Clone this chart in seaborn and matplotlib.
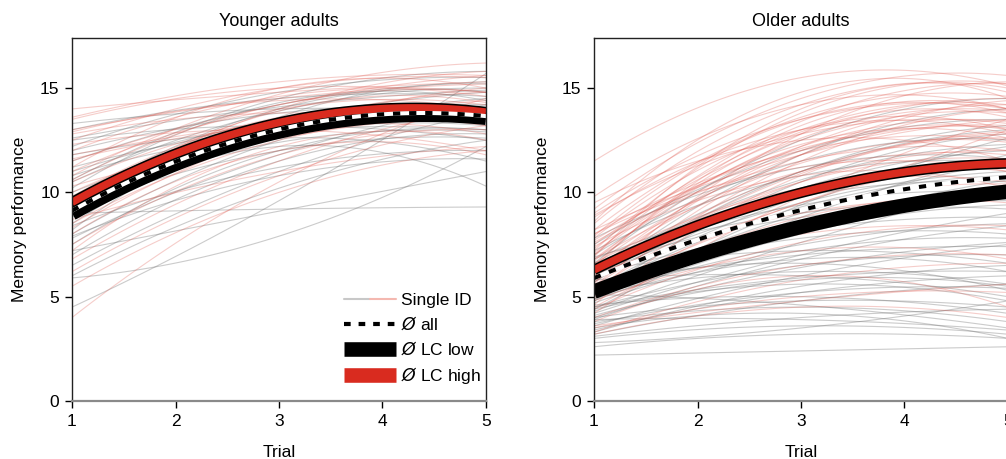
import numpy as np
import pandas as pd
import matplotlib
matplotlib.use("Agg")
import matplotlib.pyplot as plt
import seaborn as sns
from matplotlib.lines import Line2D
from matplotlib.legend_handler import HandlerTuple

# ---------------- data ----------------
trials = [1, 2, 3, 4, 5]
trial_pts = [1, 3, 5]          # individual curves: values read at trials 1, 3, 5
y_ticks = [0, 5, 10, 15]
panel_titles = ["Younger adults", "Older adults"]

young_low_ids = [
    (4.5, 9.6, 15.7), (5.9, 7.9, 12.2), (7.2, 9.1, 11.0), (9.0, 9.2, 9.3),
    (12.0, 13.8, 14.2), (11.0, 13.5, 14.8), (10.5, 13.9, 15.0), (8.0, 12.5, 14.5),
    (8.5, 13.0, 13.5), (7.5, 12.0, 13.0), (13.0, 14.5, 14.6), (10.0, 12.8, 13.2),
    (6.5, 11.0, 13.8), (9.5, 14.0, 14.8), (12.5, 13.2, 12.5), (8.8, 12.2, 10.3),
    (11.5, 14.2, 15.3), (7.0, 11.5, 12.8), (9.8, 13.4, 14.0), (10.8, 12.6, 11.5),
    (8.2, 13.6, 15.2), (12.2, 14.8, 15.5), (6.0, 10.2, 12.5), (9.2, 12.0, 12.6),
    (11.8, 13.0, 13.0), (7.8, 11.8, 14.2), (10.2, 14.3, 14.4), (13.3, 14.0, 13.8),
    (11.2, 13.1, 13.5), (9.6, 12.4, 12.9), (8.4, 11.2, 12.0), (12.6, 14.1, 14.9),
    (10.6, 14.5, 15.8), (7.9, 10.8, 11.6),
]
young_high_ids = [
    (14.0, 14.8, 15.3), (13.0, 14.5, 15.2), (4.0, 10.5, 14.5), (5.5, 10.0, 12.0),
    (12.5, 15.0, 15.5), (11.5, 14.2, 15.6), (10.5, 13.5, 14.0), (9.5, 14.0, 15.8),
    (8.5, 12.5, 13.5), (7.5, 11.8, 13.0), (10.0, 13.0, 12.8), (12.0, 14.6, 14.8),
    (8.0, 12.0, 11.8), (6.8, 11.5, 14.0), (11.0, 14.0, 14.2), (9.0, 13.2, 14.8),
    (12.8, 13.8, 13.2), (10.8, 14.7, 16.2), (7.2, 12.2, 12.5), (9.8, 13.6, 13.6),
    (11.8, 13.4, 14.4), (8.7, 11.0, 12.2), (13.5, 15.0, 14.6), (6.2, 10.8, 13.2),
    (10.3, 12.6, 13.8), (11.2, 15.0, 15.0), (9.3, 13.9, 14.3), (12.3, 13.0, 12.0),
    (10.6, 14.2, 14.8), (11.6, 13.2, 13.4), (9.1, 12.8, 14.0), (12.9, 14.4, 14.0),
    (8.3, 12.9, 15.0), (13.6, 15.3, 15.6),
]
old_low_ids = [
    (2.2, 2.4, 2.6), (3.0, 3.6, 3.2), (3.5, 4.2, 3.0), (4.0, 4.8, 4.5),
    (3.3, 5.5, 6.5), (4.5, 6.5, 7.0), (5.0, 7.5, 8.5), (4.2, 7.0, 9.0),
    (5.5, 8.5, 10.0), (6.0, 9.5, 11.0), (4.8, 8.0, 9.8), (5.2, 9.0, 11.5),
    (6.5, 10.0, 11.2), (3.8, 4.5, 3.8), (4.6, 5.0, 4.2), (5.8, 6.0, 5.0),
    (5.0, 10.5, 12.8), (6.2, 11.0, 13.0), (7.0, 11.5, 12.5), (4.4, 8.8, 11.8),
    (5.6, 7.8, 8.0), (6.8, 9.8, 10.5), (3.6, 6.0, 7.5), (4.9, 6.8, 6.2),
    (5.3, 9.3, 10.8), (7.5, 12.0, 13.5), (6.0, 8.2, 8.8), (2.8, 3.5, 4.8),
    (4.1, 5.8, 5.5), (5.7, 10.2, 12.0), (6.4, 8.8, 9.2), (4.7, 7.2, 7.8),
    (5.9, 11.8, 14.0), (3.9, 6.8, 8.4), (6.6, 12.5, 14.5), (5.1, 4.6, 3.5),
    (4.3, 7.6, 10.4), (7.2, 10.8, 11.4), (3.4, 5.2, 6.0), (5.4, 9.8, 12.2),
    (3.1, 4.0, 4.4), (2.6, 3.2, 3.0), (4.4, 5.6, 4.8), (3.7, 5.2, 5.4),
    (5.2, 6.2, 5.6), (4.0, 6.4, 7.6), (6.2, 7.2, 6.6), (4.8, 9.4, 12.6),
    (5.5, 7.0, 7.4), (6.9, 9.0, 9.6), (3.2, 4.8, 5.6), (5.0, 8.4, 10.6),
    (6.3, 10.6, 12.3), (4.5, 5.9, 6.2), (7.8, 11.2, 11.6), (5.6, 6.6, 5.3),
    (3.9, 3.9, 3.4), (6.6, 9.4, 10.0), (4.9, 8.1, 9.4), (5.7, 11.0, 13.2),
]
old_high_ids = [
    (11.5, 15.5, 15.1), (8.5, 14.2, 15.0), (9.0, 13.5, 14.0), (7.5, 12.8, 14.5),
    (8.0, 12.0, 12.5), (7.0, 12.5, 13.8), (6.5, 11.8, 13.2), (6.0, 11.0, 12.8),
    (5.5, 10.5, 12.0), (7.8, 13.0, 13.0), (6.8, 11.0, 11.8), (5.0, 9.5, 11.5),
    (4.5, 8.5, 10.0), (3.5, 5.0, 5.2), (4.0, 6.5, 7.0), (3.2, 4.5, 4.0),
    (5.8, 9.0, 9.5), (6.2, 12.2, 14.2), (7.2, 13.8, 15.2), (8.8, 13.0, 12.8),
    (5.2, 11.5, 14.0), (6.6, 10.2, 10.5), (4.8, 7.2, 6.8), (7.6, 11.5, 12.0),
    (5.6, 12.8, 15.3), (9.5, 12.5, 11.5), (4.2, 9.8, 13.5), (6.9, 14.0, 14.8),
    (3.8, 6.0, 4.5), (8.2, 11.8, 13.5), (5.4, 8.0, 8.2), (6.4, 13.2, 14.0),
    (7.4, 10.8, 10.2), (5.9, 12.0, 13.0), (4.6, 10.8, 12.6), (8.6, 14.8, 14.5),
    (6.1, 9.5, 13.0), (7.1, 12.3, 12.6), (5.3, 10.2, 11.0), (9.2, 14.5, 15.6),
    (8.2, 13.6, 14.6), (7.0, 13.4, 15.2), (6.7, 12.6, 13.9), (7.7, 12.1, 13.1),
    (5.7, 10.9, 12.9), (8.9, 12.8, 13.3), (6.3, 11.4, 12.4), (7.3, 13.0, 14.2),
    (4.9, 8.8, 9.8), (6.0, 10.5, 11.6), (3.6, 4.8, 5.6), (4.4, 7.6, 8.4),
    (9.8, 14.2, 14.0), (6.5, 12.9, 13.6), (5.1, 9.2, 10.4), (8.0, 11.2, 11.0),
    (7.9, 13.5, 13.8), (3.3, 5.8, 6.6), (6.8, 12.2, 13.4), (5.5, 11.8, 14.4),
]

young_mean_all = [9.12, 11.48, 13.02, 13.73, 13.66]
young_mean_low = [9.0, 11.37, 12.92, 13.65, 13.58]
young_mean_high = [9.52, 11.85, 13.35, 14.01, 13.85]
old_mean_all = [5.89, 7.73, 9.15, 10.15, 10.73]
old_mean_low = [5.24, 6.97, 8.35, 9.37, 10.03]
old_mean_high = [6.28, 8.42, 9.98, 10.97, 11.39]

# ---------------- style ----------------
GRAY = "#707070"
PINK = "#e05a50"
RED = "#d92b1f"

sns.set_theme(style="white")
plt.rcParams["font.family"] = ["Liberation Sans", "DejaVu Sans"]
plt.rcParams["text.color"] = "black"
plt.rcParams["axes.labelcolor"] = "black"
plt.rcParams["xtick.color"] = "black"
plt.rcParams["ytick.color"] = "black"

grid = np.linspace(1, 5, 101)


def smooth(xs, ys):
    coef = np.polyfit(xs, ys, 2)
    return np.polyval(coef, grid)


def id_frame(triples, group):
    rows = []
    for i, t in enumerate(triples):
        for x, y in zip(grid, smooth(trial_pts, t)):
            rows.append((f"{group}{i}", x, y, group))
    return pd.DataFrame(rows, columns=["id", "trial", "score", "lc"])


def mean_frame(values):
    return pd.DataFrame({"trial": grid, "score": smooth(trials, values)})


fig = plt.figure(figsize=(10.06, 4.59), dpi=100)
W, H = 1006, 459
ax_l = fig.add_axes([72 / W, (H - 401) / H, 414 / W, 363 / H])
ax_r = fig.add_axes([594 / W, (H - 401) / H, 414 / W, 363 / H])

panels = [
    (ax_l, young_low_ids, young_high_ids, young_mean_all, young_mean_low, young_mean_high),
    (ax_r, old_low_ids, old_high_ids, old_mean_all, old_mean_low, old_mean_high),
]

for k, (ax, low_ids, high_ids, m_all, m_low, m_high) in enumerate(panels):
    df = pd.concat([id_frame(low_ids, "low"), id_frame(high_ids, "high")])
    for g, col, a in [("low", GRAY, 0.36), ("high", PINK, 0.30)]:
        sns.lineplot(data=df[df.lc == g], x="trial", y="score", units="id",
                     estimator=None, color=col, alpha=a, lw=0.8, ax=ax,
                     legend=False)

    ml = mean_frame(m_low)
    mh = mean_frame(m_high)
    ma = mean_frame(m_all)
    sns.lineplot(data=ml, x="trial", y="score", color="black", lw=10.5, ax=ax,
                 solid_capstyle="butt")
    sns.lineplot(data=mh, x="trial", y="score", color="black", lw=7.6, ax=ax,
                 solid_capstyle="butt")
    sns.lineplot(data=mh, x="trial", y="score", color=RED, lw=5.4, ax=ax,
                 solid_capstyle="butt")
    sns.lineplot(data=ma, x="trial", y="score", color="white", lw=2.9, ax=ax)
    sns.lineplot(data=ma, x="trial", y="score", color="black", lw=2.9, ax=ax,
                 dashes=False, linestyle=(0, (1.8, 2.2)))

    ax.set_xlim(1, 5)
    ax.set_ylim(0, 17.4)
    ax.set_xticks(trials)
    ax.set_yticks(y_ticks)
    ax.set_xticklabels([str(t) for t in trials])
    ax.set_xlabel("Trial", fontsize=12.5, labelpad=12)
    ax.set_ylabel("Memory performance", fontsize=12.5, labelpad=9)
    ax.set_title(panel_titles[k], fontsize=13, pad=9)
    ax.tick_params(bottom=True, left=True, direction="out", length=5,
                   width=1, labelsize=12.5, pad=4)
    for s in ["left", "top", "right"]:
        ax.spines[s].set_color("#222222")
        ax.spines[s].set_linewidth(1.0)
    ax.spines["bottom"].set_color("#8a8a8a")
    ax.spines["bottom"].set_linewidth(1.6)

# legend in left panel
h_single = (Line2D([], [], color="#c8c8c8", lw=1.5), Line2D([], [], color="#f4b8b0", lw=1.5))
h_all = Line2D([], [], color="black", lw=3, linestyle=(0, (1.6, 1.9)))
h_low = Line2D([], [], color="black", lw=10.5, solid_capstyle="butt")
h_high = Line2D([], [], color=RED, lw=10.5, solid_capstyle="butt")
ax_l.legend([h_single, h_all, h_low, h_high],
            ["Single ID", r"$\mathit{\O}$ all", r"$\mathit{\O}$ LC low", r"$\mathit{\O}$ LC high"],
            handler_map={tuple: HandlerTuple(ndivide=None, pad=0)},
            loc="lower right", bbox_to_anchor=(1.012, 0.014), frameon=False,
            fontsize=12.5, handlelength=3.0, handletextpad=0.3, labelspacing=0.42,
            borderaxespad=0.15)

fig.savefig("out.png", dpi=100)
